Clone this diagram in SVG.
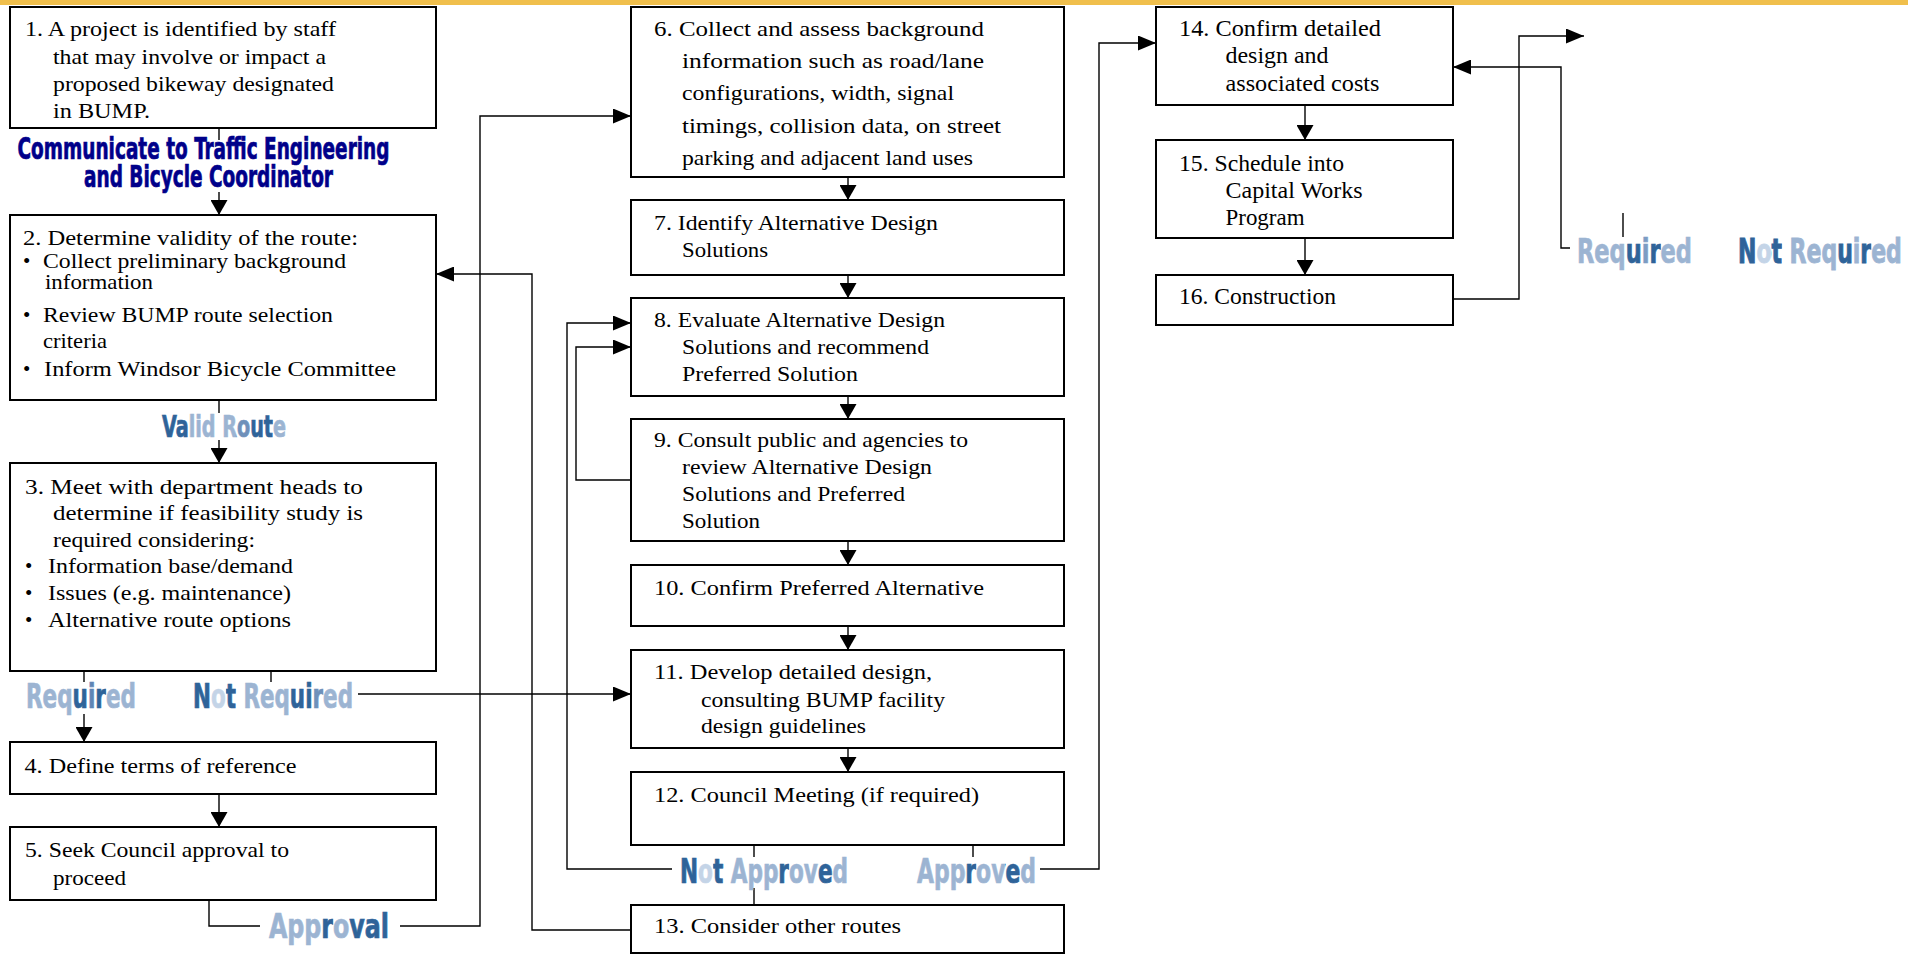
<svg xmlns="http://www.w3.org/2000/svg" width="1927" height="955" viewBox="0 0 1927 955">
<style>
.box{fill:#fff;stroke:#000;stroke-width:2}
.t{font-family:"Liberation Serif","Times New Roman",serif;font-size:21px;fill:#000}
.tr{font-size:23px}
.c{fill:none;stroke:#000;stroke-width:1.4}
.lbl{font-family:"DejaVu Sans Condensed","DejaVu Sans",sans-serif;font-weight:bold;font-stretch:condensed;font-size:33px;stroke-width:0.7}
.comm{font-family:"DejaVu Sans Condensed","DejaVu Sans",sans-serif;font-weight:bold;font-stretch:condensed;font-size:30px;fill:#00008A;stroke:#00008A;stroke-width:0.7}
</style>
<defs>
<marker id="ah" viewBox="0 0 18 15" refX="18" refY="7.5" markerWidth="18" markerHeight="15" markerUnits="userSpaceOnUse" orient="auto"><path d="M0,0 L18,7.5 L0,15 z" fill="#000"/></marker>
<marker id="av" viewBox="0 0 15 17" refX="15" refY="8.5" markerWidth="15" markerHeight="17" markerUnits="userSpaceOnUse" orient="auto"><path d="M0,0 L15,8.5 L0,17 z" fill="#000"/></marker>
<linearGradient id="gValid" gradientUnits="userSpaceOnUse" x1="162" y1="0" x2="286" y2="0">
<stop offset="0" stop-color="#2F6399"/><stop offset="0.222" stop-color="#2F6399"/>
<stop offset="0.222" stop-color="#9CB4D2"/><stop offset="0.5905" stop-color="#9CB4D2"/>
<stop offset="0.608" stop-color="#6E90BA"/><stop offset="0.714" stop-color="#6E90BA"/>
<stop offset="0.714" stop-color="#2F6399"/><stop offset="0.896" stop-color="#2F6399"/>
<stop offset="0.896" stop-color="#9CB4D2"/><stop offset="1" stop-color="#9CB4D2"/>
</linearGradient>
<linearGradient id="gReqL" gradientUnits="userSpaceOnUse" x1="26" y1="0" x2="136" y2="0">
<stop offset="0" stop-color="#9CB4D2"/><stop offset="0.424" stop-color="#9CB4D2"/>
<stop offset="0.424" stop-color="#2F6399"/><stop offset="0.563" stop-color="#2F6399"/>
<stop offset="0.563" stop-color="#5F86B5"/><stop offset="0.630" stop-color="#5F86B5"/>
<stop offset="0.630" stop-color="#2F6399"/><stop offset="0.727" stop-color="#2F6399"/>
<stop offset="0.727" stop-color="#9CB4D2"/><stop offset="1" stop-color="#9CB4D2"/>
</linearGradient>
<linearGradient id="gNRL" gradientUnits="userSpaceOnUse" x1="193" y1="0" x2="353" y2="0">
<stop offset="0" stop-color="#2F6399"/><stop offset="0.112" stop-color="#2F6399"/>
<stop offset="0.112" stop-color="#C4D4E7"/><stop offset="0.204" stop-color="#C4D4E7"/>
<stop offset="0.204" stop-color="#2F6399"/><stop offset="0.27" stop-color="#2F6399"/>
<stop offset="0.27" stop-color="#9CB4D2"/><stop offset="0.605" stop-color="#9CB4D2"/>
<stop offset="0.605" stop-color="#2F6399"/><stop offset="0.747" stop-color="#2F6399"/>
<stop offset="0.747" stop-color="#6E90BA"/><stop offset="0.813" stop-color="#6E90BA"/>
<stop offset="0.813" stop-color="#9CB4D2"/><stop offset="1" stop-color="#9CB4D2"/>
</linearGradient>
<linearGradient id="gAppr" gradientUnits="userSpaceOnUse" x1="269" y1="0" x2="389" y2="0">
<stop offset="0" stop-color="#9CB4D2"/><stop offset="0.436" stop-color="#9CB4D2"/>
<stop offset="0.436" stop-color="#2F6399"/><stop offset="0.534" stop-color="#2F6399"/>
<stop offset="0.534" stop-color="#9CB4D2"/><stop offset="0.670" stop-color="#9CB4D2"/>
<stop offset="0.670" stop-color="#2F6399"/><stop offset="1" stop-color="#2F6399"/>
</linearGradient>
<linearGradient id="gNA" gradientUnits="userSpaceOnUse" x1="680" y1="0" x2="848" y2="0">
<stop offset="0" stop-color="#2F6399"/><stop offset="0.1076" stop-color="#2F6399"/>
<stop offset="0.1076" stop-color="#C4D4E7"/><stop offset="0.1958" stop-color="#C4D4E7"/>
<stop offset="0.1958" stop-color="#2F6399"/><stop offset="0.26" stop-color="#2F6399"/>
<stop offset="0.26" stop-color="#9CB4D2"/><stop offset="0.5855" stop-color="#9CB4D2"/>
<stop offset="0.5855" stop-color="#2F6399"/><stop offset="0.6488" stop-color="#2F6399"/>
<stop offset="0.6488" stop-color="#9CB4D2"/><stop offset="0.8209" stop-color="#9CB4D2"/>
<stop offset="0.8209" stop-color="#2F6399"/><stop offset="0.908" stop-color="#2F6399"/>
<stop offset="0.908" stop-color="#9CB4D2"/><stop offset="1" stop-color="#9CB4D2"/>
</linearGradient>
<linearGradient id="gAd" gradientUnits="userSpaceOnUse" x1="917" y1="0" x2="1036" y2="0">
<stop offset="0" stop-color="#9CB4D2"/><stop offset="0.406" stop-color="#9CB4D2"/>
<stop offset="0.406" stop-color="#2F6399"/><stop offset="0.497" stop-color="#2F6399"/>
<stop offset="0.497" stop-color="#9CB4D2"/><stop offset="0.7434" stop-color="#9CB4D2"/>
<stop offset="0.7434" stop-color="#2F6399"/><stop offset="0.8682" stop-color="#2F6399"/>
<stop offset="0.8682" stop-color="#9CB4D2"/><stop offset="1" stop-color="#9CB4D2"/>
</linearGradient>
<linearGradient id="gReqR" gradientUnits="userSpaceOnUse" x1="1577" y1="0" x2="1692" y2="0">
<stop offset="0" stop-color="#9CB4D2"/><stop offset="0.424" stop-color="#9CB4D2"/>
<stop offset="0.424" stop-color="#2F6399"/><stop offset="0.563" stop-color="#2F6399"/>
<stop offset="0.563" stop-color="#7C9CC3"/><stop offset="0.630" stop-color="#7C9CC3"/>
<stop offset="0.630" stop-color="#2F6399"/><stop offset="0.727" stop-color="#2F6399"/>
<stop offset="0.727" stop-color="#9CB4D2"/><stop offset="1" stop-color="#9CB4D2"/>
</linearGradient>
<!-- Not Required (right), in the label's own scaled frame: x 0..234 -->
<linearGradient id="gNRR" gradientUnits="userSpaceOnUse" x1="0" y1="0" x2="234" y2="0">
<stop offset="0" stop-color="#2F6399"/><stop offset="0.112" stop-color="#2F6399"/>
<stop offset="0.112" stop-color="#C4D4E7"/><stop offset="0.204" stop-color="#C4D4E7"/>
<stop offset="0.204" stop-color="#2F6399"/><stop offset="0.27" stop-color="#2F6399"/>
<stop offset="0.27" stop-color="#9CB4D2"/><stop offset="0.605" stop-color="#9CB4D2"/>
<stop offset="0.605" stop-color="#2F6399"/><stop offset="0.701" stop-color="#2F6399"/>
<stop offset="0.701" stop-color="#9CB4D2"/><stop offset="0.747" stop-color="#9CB4D2"/>
<stop offset="0.747" stop-color="#2F6399"/><stop offset="0.813" stop-color="#2F6399"/>
<stop offset="0.813" stop-color="#9CB4D2"/><stop offset="1" stop-color="#9CB4D2"/>
</linearGradient>
</defs>
<rect x="0" y="0" width="1927" height="955" fill="#fff"/>
<rect x="0" y="0" width="1908" height="5" fill="#F0BF4C"/>

<g id="connectors">
<path class="c" d="M219,128 V140"/>
<path class="c" d="M219,192 V215" marker-end="url(#av)"/>
<path class="c" d="M219,400 V413"/>
<path class="c" d="M219,440 V463" marker-end="url(#av)"/>
<path class="c" d="M84,671 V682"/>
<path class="c" d="M84,714 V742" marker-end="url(#av)"/>
<path class="c" d="M271,671 V682"/>
<path class="c" d="M358,694 H631" marker-end="url(#ah)"/>
<path class="c" d="M219,794 V827" marker-end="url(#av)"/>
<path class="c" d="M209,900 V926 H260"/>
<path class="c" d="M400,926 H480 V116 H631" marker-end="url(#ah)"/>
<path class="c" d="M631,930 H532 V274 H436" marker-end="url(#ah)"/>
<path class="c" d="M848,177 V200" marker-end="url(#av)"/>
<path class="c" d="M848,275 V298" marker-end="url(#av)"/>
<path class="c" d="M848,396 V419" marker-end="url(#av)"/>
<path class="c" d="M848,541 V565" marker-end="url(#av)"/>
<path class="c" d="M848,626 V650" marker-end="url(#av)"/>
<path class="c" d="M848,748 V772" marker-end="url(#av)"/>
<path class="c" d="M631,480 H576 V347 H631" marker-end="url(#ah)"/>
<path class="c" d="M754,845 V857"/>
<path class="c" d="M672,869 H567 V323 H631" marker-end="url(#ah)"/>
<path class="c" d="M754,888 V905"/>
<path class="c" d="M973,845 V857"/>
<path class="c" d="M1040,869 H1099 V43 H1156" marker-end="url(#ah)"/>
<path class="c" d="M1305,105 V140" marker-end="url(#av)"/>
<path class="c" d="M1305,238 V275" marker-end="url(#av)"/>
<path class="c" d="M1453,299 H1519 V36 H1584" marker-end="url(#ah)"/>
<path class="c" d="M1570,248 H1561 V67 H1453" marker-end="url(#ah)"/>
<path class="c" d="M1623,213 V237"/>
</g>

<g id="labels">
<text class="comm" x="17.5" y="159" textLength="372" lengthAdjust="spacingAndGlyphs">Communicate to Traffic Engineering</text>
<text class="comm" x="84" y="187" textLength="249" lengthAdjust="spacingAndGlyphs">and Bicycle Coordinator</text>
<text class="lbl" style="font-size:30px" x="162" y="437" textLength="124" lengthAdjust="spacingAndGlyphs" fill="url(#gValid)" stroke="url(#gValid)">Valid Route</text>
<text class="lbl" x="26" y="708" textLength="110" lengthAdjust="spacingAndGlyphs" fill="url(#gReqL)" stroke="url(#gReqL)">Required</text>
<text class="lbl" x="193" y="708" textLength="160" lengthAdjust="spacingAndGlyphs" fill="url(#gNRL)" stroke="url(#gNRL)">Not Required</text>
<text class="lbl" x="269" y="938" textLength="120" lengthAdjust="spacingAndGlyphs" fill="url(#gAppr)" stroke="url(#gAppr)">Approval</text>
<text class="lbl" x="680" y="883" textLength="168" lengthAdjust="spacingAndGlyphs" fill="url(#gNA)" stroke="url(#gNA)">Not Approved</text>
<text class="lbl" x="917" y="883" textLength="119" lengthAdjust="spacingAndGlyphs" fill="url(#gAd)" stroke="url(#gAd)">Approved</text>
<text class="lbl" x="1577" y="263" textLength="115" lengthAdjust="spacingAndGlyphs" fill="url(#gReqR)" stroke="url(#gReqR)">Required</text>
<text class="lbl" transform="translate(1738,263) scale(0.7,1)" x="0" y="0" textLength="234" lengthAdjust="spacingAndGlyphs" fill="url(#gNRR)" stroke="url(#gNRR)" style="stroke-width:0.9">Not Required</text>
</g>

<g id="n1"><rect class="box" x="10" y="7" width="426" height="121"/>
<text class="t" x="25" y="36" textLength="311" lengthAdjust="spacingAndGlyphs">1. A project is identified by staff</text>
<text class="t" x="53" y="63.5" textLength="273" lengthAdjust="spacingAndGlyphs">that may involve or impact a</text>
<text class="t" x="53" y="91" textLength="281" lengthAdjust="spacingAndGlyphs">proposed bikeway designated</text>
<text class="t" x="53" y="118" textLength="97" lengthAdjust="spacingAndGlyphs">in BUMP.</text></g>

<g id="n2"><rect class="box" x="10" y="215" width="426" height="185"/>
<text class="t" x="23" y="245" textLength="335" lengthAdjust="spacingAndGlyphs">2. Determine validity of the route:</text>
<text class="t" x="23" y="268">•</text>
<text class="t" x="43" y="268" textLength="303" lengthAdjust="spacingAndGlyphs">Collect preliminary background</text>
<text class="t" x="45" y="289" textLength="108" lengthAdjust="spacingAndGlyphs">information</text>
<text class="t" x="23" y="322">•</text>
<text class="t" x="43" y="322" textLength="290" lengthAdjust="spacingAndGlyphs">Review BUMP route selection</text>
<text class="t" x="43" y="348" textLength="64" lengthAdjust="spacingAndGlyphs">criteria</text>
<text class="t" x="23" y="376">•</text>
<text class="t" x="44" y="376" textLength="352" lengthAdjust="spacingAndGlyphs">Inform Windsor Bicycle Committee</text></g>

<g id="n3"><rect class="box" x="10" y="463" width="426" height="208"/>
<text class="t" x="25" y="494" textLength="338" lengthAdjust="spacingAndGlyphs">3. Meet with department heads to</text>
<text class="t" x="53" y="520" textLength="310" lengthAdjust="spacingAndGlyphs">determine if feasibility study is</text>
<text class="t" x="53" y="547" textLength="202" lengthAdjust="spacingAndGlyphs">required considering:</text>
<text class="t" x="25" y="573">•</text>
<text class="t" x="48" y="573" textLength="245" lengthAdjust="spacingAndGlyphs">Information base/demand</text>
<text class="t" x="25" y="600">•</text>
<text class="t" x="48" y="600" textLength="243" lengthAdjust="spacingAndGlyphs">Issues (e.g. maintenance)</text>
<text class="t" x="25" y="627">•</text>
<text class="t" x="48" y="627" textLength="243" lengthAdjust="spacingAndGlyphs">Alternative route options</text></g>

<g id="n4"><rect class="box" x="10" y="742" width="426" height="52"/>
<text class="t" x="24.5" y="773" textLength="272" lengthAdjust="spacingAndGlyphs">4. Define terms of reference</text></g>

<g id="n5"><rect class="box" x="10" y="827" width="426" height="73"/>
<text class="t" x="25" y="857" textLength="264" lengthAdjust="spacingAndGlyphs">5. Seek Council approval to</text>
<text class="t" x="53" y="885" textLength="73" lengthAdjust="spacingAndGlyphs">proceed</text></g>

<g id="n6"><rect class="box" x="631" y="7" width="433" height="170"/>
<text class="t" x="654" y="36" textLength="330" lengthAdjust="spacingAndGlyphs">6. Collect and assess background</text>
<text class="t" x="682" y="68" textLength="302" lengthAdjust="spacingAndGlyphs">information such as road/lane</text>
<text class="t" x="682" y="100" textLength="272" lengthAdjust="spacingAndGlyphs">configurations, width, signal</text>
<text class="t" x="682" y="133" textLength="319" lengthAdjust="spacingAndGlyphs">timings, collision data, on street</text>
<text class="t" x="682" y="165" textLength="291" lengthAdjust="spacingAndGlyphs">parking and adjacent land uses</text></g>

<g id="n7"><rect class="box" x="631" y="200" width="433" height="75"/>
<text class="t" x="654" y="230" textLength="284" lengthAdjust="spacingAndGlyphs">7. Identify Alternative Design</text>
<text class="t" x="682" y="257" textLength="86" lengthAdjust="spacingAndGlyphs">Solutions</text></g>

<g id="n8"><rect class="box" x="631" y="298" width="433" height="98"/>
<text class="t" x="654" y="327" textLength="291" lengthAdjust="spacingAndGlyphs">8. Evaluate Alternative Design</text>
<text class="t" x="682" y="354" textLength="247" lengthAdjust="spacingAndGlyphs">Solutions and recommend</text>
<text class="t" x="682" y="381" textLength="176" lengthAdjust="spacingAndGlyphs">Preferred  Solution</text></g>

<g id="n9"><rect class="box" x="631" y="419" width="433" height="122"/>
<text class="t" x="654" y="447" textLength="314" lengthAdjust="spacingAndGlyphs">9. Consult public and agencies to</text>
<text class="t" x="682" y="474" textLength="250" lengthAdjust="spacingAndGlyphs">review Alternative Design</text>
<text class="t" x="682" y="501" textLength="223" lengthAdjust="spacingAndGlyphs">Solutions and Preferred</text>
<text class="t" x="682" y="528" textLength="78" lengthAdjust="spacingAndGlyphs">Solution</text></g>

<g id="n10"><rect class="box" x="631" y="565" width="433" height="61"/>
<text class="t" x="654" y="595" textLength="330" lengthAdjust="spacingAndGlyphs">10. Confirm Preferred Alternative</text></g>

<g id="n11"><rect class="box" x="631" y="650" width="433" height="98"/>
<text class="t" x="654" y="679" textLength="278" lengthAdjust="spacingAndGlyphs">11. Develop detailed design,</text>
<text class="t" x="701" y="707" textLength="244" lengthAdjust="spacingAndGlyphs">consulting BUMP facility</text>
<text class="t" x="701" y="733" textLength="165" lengthAdjust="spacingAndGlyphs">design guidelines</text></g>

<g id="n12"><rect class="box" x="631" y="772" width="433" height="73"/>
<text class="t" x="654" y="802" textLength="325" lengthAdjust="spacingAndGlyphs">12. Council Meeting (if required)</text></g>

<g id="n13"><rect class="box" x="631" y="905" width="433" height="48"/>
<text class="t" x="654" y="933" textLength="247" lengthAdjust="spacingAndGlyphs">13. Consider other routes</text></g>

<g id="n14"><rect class="box" x="1156" y="7" width="297" height="98"/>
<text class="t tr" x="1179" y="36" textLength="202" lengthAdjust="spacingAndGlyphs">14.  Confirm detailed</text>
<text class="t tr" x="1225.5" y="63" textLength="103" lengthAdjust="spacingAndGlyphs">design and</text>
<text class="t tr" x="1225.5" y="91" textLength="154" lengthAdjust="spacingAndGlyphs">associated  costs</text></g>

<g id="n15"><rect class="box" x="1156" y="140" width="297" height="98"/>
<text class="t tr" x="1179" y="171" textLength="165" lengthAdjust="spacingAndGlyphs">15. Schedule into</text>
<text class="t tr" x="1225.5" y="198" textLength="137" lengthAdjust="spacingAndGlyphs">Capital Works</text>
<text class="t tr" x="1225.5" y="225" textLength="79" lengthAdjust="spacingAndGlyphs">Program</text></g>

<g id="n16"><rect class="box" x="1156" y="275" width="297" height="50"/>
<text class="t tr" x="1179" y="304" textLength="157" lengthAdjust="spacingAndGlyphs">16. Construction</text></g>
</svg>
